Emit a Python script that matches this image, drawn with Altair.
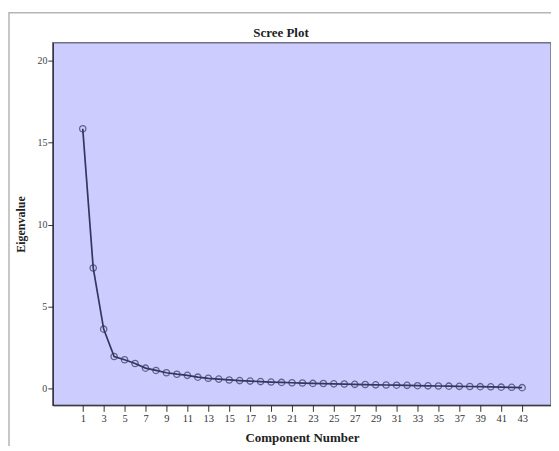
import altair as alt
import pandas as pd

components = list(range(1, 44))
eigenvalues = [15.85, 7.35, 3.62, 1.95, 1.75, 1.52, 1.24, 1.10, 0.96, 0.87,
               0.80, 0.69, 0.62, 0.57, 0.52, 0.48, 0.45, 0.42, 0.39, 0.37,
               0.35, 0.33, 0.31, 0.30, 0.28, 0.27, 0.25, 0.24, 0.22, 0.21,
               0.20, 0.19, 0.17, 0.16, 0.15, 0.14, 0.13, 0.12, 0.11, 0.10,
               0.08, 0.07, 0.05]
x_ticks = list(range(1, 44, 2))
y_ticks = [0, 5, 10, 15, 20]

df = pd.DataFrame({"Component": components, "Eigenvalue": eigenvalues})

SERIF = "Liberation Serif"
LINE = "#35355e"

x = alt.X("Component:Q",
          scale=alt.Scale(domain=[-1.86, 45.76], nice=False, zero=False),
          axis=alt.Axis(title="Component Number", values=x_ticks, grid=False,
                        labelFont=SERIF, labelFontSize=10.5, labelColor="#333",
                        titleFont=SERIF, titleFontSize=13, titleFontWeight="bold",
                        titleColor="#222", titlePadding=8,
                        domainColor="#222", tickColor="#333", tickSize=6,
                        labelPadding=2, labelFlush=False, labelOverlap=False))
y = alt.Y("Eigenvalue:Q",
          scale=alt.Scale(domain=[-1.03, 21.1], nice=False, zero=False),
          axis=alt.Axis(title="Eigenvalue", values=y_ticks, grid=False,
                        labelFont=SERIF, labelFontSize=10, labelColor="#444",
                        titleFont=SERIF, titleFontSize=12, titleFontWeight="bold",
                        titleColor="#222", titlePadding=9,
                        domainColor="#222", tickColor="#333", tickSize=5,
                        labelPadding=1))

frame = alt.Chart(df).mark_rect(fill="transparent", stroke="#b5b5b5",
                                strokeWidth=1.5).encode(
    x=alt.value(-44), x2=alt.value(520), y=alt.value(-30), y2=alt.value(430)
).transform_filter(alt.datum.Component == 1)

line = alt.Chart(df).mark_line(color=LINE, strokeWidth=1.7).encode(x=x, y=y)
points = alt.Chart(df).mark_point(shape="circle", filled=False, color=LINE,
                                  size=40, strokeWidth=1.3).encode(x=x, y=y)

chart = alt.layer(frame, line, points).properties(
    width=500, height=364,
    title=alt.TitleParams("Scree Plot", font=SERIF, fontSize=13,
                          fontWeight="bold", color="#222", dx=-21, offset=-28),
    autosize=alt.AutoSizeParams(type="none"),
    padding={"left": 45, "top": 34, "right": 0, "bottom": 40},
).configure(background="white"
).configure_view(fill="#ccccff", stroke="#707088", strokeWidth=1.5)

chart.save("out.html", embed_options={"renderer": "svg", "actions": False})
